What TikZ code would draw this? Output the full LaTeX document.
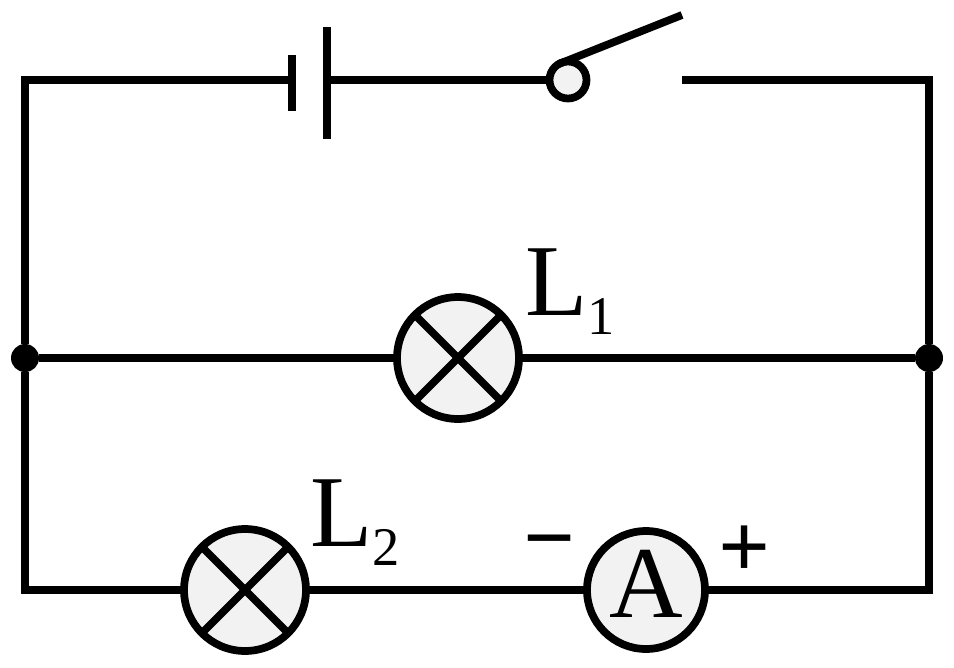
\documentclass[tikz,border=0pt]{standalone}
\usepackage{fontspec}
\setmainfont{Liberation Serif}
\usepackage{tikz}
\newcommand{\lampname}[1]{L{\fontsize{31}{31}\selectfont\raisebox{-11.3pt}{#1}}}

\begin{document}
\begin{tikzpicture}[x=0.02cm, y=-0.02cm, line width=4.4pt,
    lamp/.style={circle, draw=black, fill=black!5, inner sep=0pt, outer sep=0pt, minimum size=2.44cm},
    meter/.style={circle, draw=black, fill=black!5, inner sep=0pt, outer sep=0pt, minimum size=2.36cm, font=\fontsize{58}{58}\selectfont, text depth=0.24cm},
    pivot/.style={circle, draw=black, fill=black!5, inner sep=0pt, outer sep=0pt, minimum size=0.74cm},
    junction/.style={circle, fill=black, inner sep=0pt, outer sep=0pt, minimum size=0.56cm},
    plate/.style={rectangle, fill=black, inner sep=0pt, outer sep=0pt, minimum width=0.16cm},
    tag/.style={inner sep=0pt, outer sep=0pt, anchor=base west, font=\fontsize{58}{58}\selectfont},
    sign/.style={inner sep=0pt, outer sep=0pt, font=\bfseries\fontsize{52}{52}\selectfont}]

    \useasboundingbox (0,0) rectangle (954,667);

    %Nodes
    \node[lamp](lamp_one) at (458,358){};
    \node[lamp](lamp_two) at (245,590){};
    \node[meter](meter) at (646,590){A};
    \node[pivot](pivot) at (568,80){};
    \node[junction](left_joint) at (25,358){};
    \node[junction](right_joint) at (929,358){};
    \node[plate, minimum height=1.12cm](plate_thin) at (292,83){};
    \node[plate, minimum height=2.24cm](plate_thick) at (327,83){};
    \node[tag](lamp_one_text) at (525,315){\lampname{1}};
    \node[tag](lamp_two_text) at (310,546){\lampname{2}};
    \node[sign](minus_text) at (550,552){−};
    \node[sign](plus_text) at (745,552){+};

    %Free ends
    \coordinate (top_left) at (25,80);
    \coordinate (top_right) at (929,80);
    \coordinate (bottom_left) at (25,590);
    \coordinate (bottom_right) at (929,590);
    \coordinate (lever_end) at (682,15);
    \coordinate (contact) at (682,80);

    %Lines
    \draw (left_joint) -- (top_left) -- (top_left -| plate_thin);
    \draw (plate_thick |- pivot) -- (pivot);
    \draw (pivot.120) -- (lever_end);
    \draw (contact) -- (top_right) -- (right_joint);
    \draw (left_joint) -- (lamp_one) -- (right_joint);
    \draw (left_joint) -- (bottom_left) -- (lamp_two);
    \draw (lamp_two) -- (meter);
    \draw (meter) -- (bottom_right) -- (right_joint);

    %Lamp crosses
    \draw (lamp_one.45) -- (lamp_one.225);
    \draw (lamp_one.135) -- (lamp_one.315);
    \draw (lamp_two.45) -- (lamp_two.225);
    \draw (lamp_two.135) -- (lamp_two.315);

\end{tikzpicture}
\end{document}
